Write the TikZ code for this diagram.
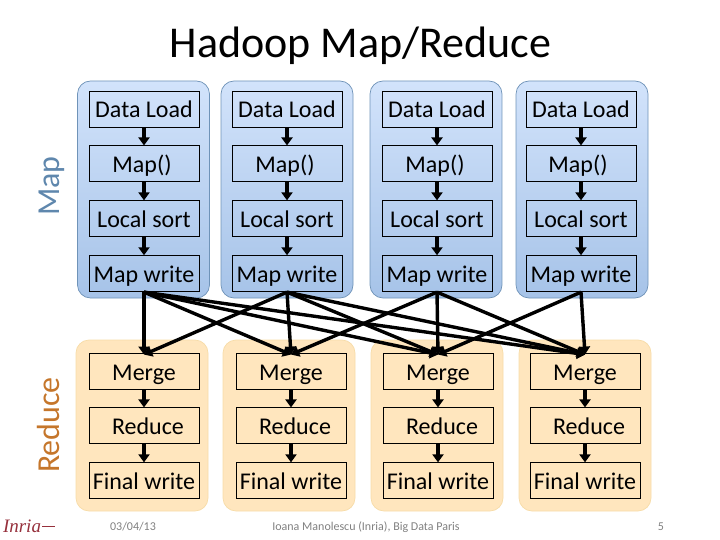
\documentclass[tikz,border=0pt]{standalone}
\usepackage{fontspec}
\setmainfont{Carlito}
\newfontfamily\logofont{Liberation Serif}
\usetikzlibrary{positioning,arrows.meta}

\definecolor{mapblue}{HTML}{5F87AD}
\definecolor{reduceorange}{HTML}{C5762B}
\definecolor{panelblue}{HTML}{6F93B8}
\definecolor{paneltop}{HTML}{D2E3FB}
\definecolor{panelbottom}{HTML}{A6C3E8}
\definecolor{panelorange}{HTML}{FFE6BE}
\definecolor{paneledge}{HTML}{F7DCA8}
\definecolor{logored}{HTML}{96303C}

\tikzset{
stepbox/.style = {draw=black, line width=0.9pt, minimum width=110pt, minimum height=36pt, inner sep=0pt, text height=21pt, text depth=3pt, font=\fontsize{24}{24}\selectfont},
mappanel/.style = {draw=panelblue, line width=0.7pt, rounded corners=13pt, top color=paneltop, bottom color=panelbottom, minimum width=132pt, minimum height=217pt, inner sep=0pt},
reducepanel/.style = {draw=paneledge, line width=0.7pt, rounded corners=13pt, fill=panelorange, minimum width=132pt, minimum height=171pt, inner sep=0pt},
flow/.style = {-{Triangle[length=8pt,width=11pt]}, line width=3.4pt, black},
footer/.style = {text=black!50, font=\fontsize{12}{12}\selectfont, inner sep=0pt},
}

\begin{document}
\begin{tikzpicture}[x=1pt,y=-1pt]
\useasboundingbox (0,0) rectangle (720,540);

\node[font=\fontsize{44}{44}\selectfont, inner sep=0pt] (title) at (360.5,46) {Hadoop Map/Reduce};
\node[rotate=90, text=mapblue, font=\fontsize{32}{32}\selectfont, inner sep=0pt] (maplabel) at (52,186) {Map};
\node[rotate=90, text=reduceorange, font=\fontsize{32}{32}\selectfont, inner sep=0pt] (reducelabel) at (49,425) {Reduce};

% panels
\node[mappanel] (pm1) at (143.5,189.5) {};
\node[mappanel] (pm2) at (287,189.5) {};
\node[mappanel] (pm3) at (436,189.5) {};
\node[mappanel] (pm4) at (582,189.5) {};
\node[reducepanel] (pr1) at (142,425.5) {};
\node[reducepanel] (pr2) at (289,425.5) {};
\node[reducepanel] (pr3) at (437,425.5) {};
\node[reducepanel] (pr4) at (585,425.5) {};

% map columns
\node[stepbox] (dl1) at (144,109) {Data Load};
\node[stepbox,below=18pt of dl1] (mp1) {\hspace*{-4pt}Map()};
\node[stepbox,below=18pt of mp1] (ls1) {Local sort};
\node[stepbox,below=18pt of ls1] (mw1) {Map write};

\node[stepbox] (dl2) at (287,109) {Data Load};
\node[stepbox,below=18pt of dl2] (mp2) {\hspace*{-4pt}Map()};
\node[stepbox,below=18pt of mp2] (ls2) {Local sort};
\node[stepbox,below=18pt of ls2] (mw2) {Map write};

\node[stepbox] (dl3) at (437,109) {Data Load};
\node[stepbox,below=18pt of dl3] (mp3) {\hspace*{-4pt}Map()};
\node[stepbox,below=18pt of mp3] (ls3) {Local sort};
\node[stepbox,below=18pt of ls3] (mw3) {Map write};

\node[stepbox] (dl4) at (581,109) {Data Load};
\node[stepbox,below=18pt of dl4] (mp4) {\hspace*{-6pt}Map()};
\node[stepbox,below=18pt of mp4] (ls4) {Local sort};
\node[stepbox,below=18pt of ls4] (mw4) {Map write};

% reduce columns
\node[stepbox] (mg1) at (144,371) {Merge};
\node[stepbox,below=18pt of mg1] (rd1) {\hspace*{8pt}Reduce};
\node[stepbox,below=18pt of rd1] (fw1) {Final write};

\node[stepbox] (mg2) at (291,371) {Merge};
\node[stepbox,below=18pt of mg2] (rd2) {\hspace*{8pt}Reduce};
\node[stepbox,below=18pt of rd2] (fw2) {Final write};

\node[stepbox] (mg3) at (438,371) {Merge};
\node[stepbox,below=18pt of mg3] (rd3) {\hspace*{8pt}Reduce};
\node[stepbox,below=18pt of rd3] (fw3) {Final write};

\node[stepbox] (mg4) at (585,371) {Merge};
\node[stepbox,below=18pt of mg4] (rd4) {\hspace*{8pt}Reduce};
\node[stepbox,below=18pt of rd4] (fw4) {Final write};

% steps inside the columns
\foreach \c in {1,2,3,4} {
\draw[flow] (dl\c) -- (mp\c);
\draw[flow] (mp\c) -- (ls\c);
\draw[flow] (ls\c) -- (mw\c);
\draw[flow] (mg\c) -- (rd\c);
\draw[flow] (rd\c) -- (fw\c);
}

% shuffle
\foreach \a/\b in {1/1,1/2,1/3,1/4,2/1,2/2,2/3,2/4,3/2,3/3,3/4,4/3,4/4} {
\draw[flow] (mw\a.south) -- ([yshift=-2pt]mg\b.north);
}

% footer
\node[footer] (date) at (133,527) {03/04/13};
\node[footer] (talk) at (366,527) {Ioana Manolescu (Inria), Big Data Paris};
\node[footer] (page) at (661,527) {5};
\node[text=logored, inner sep=0pt, font=\logofont\itshape\fontsize{19}{19}\selectfont] (logo) at (22,526) {Inria};
\coordinate[right=1pt of logo] (swash);
\draw[logored, line width=1pt] (swash) -- ++(13,0);
\end{tikzpicture}
\end{document}
